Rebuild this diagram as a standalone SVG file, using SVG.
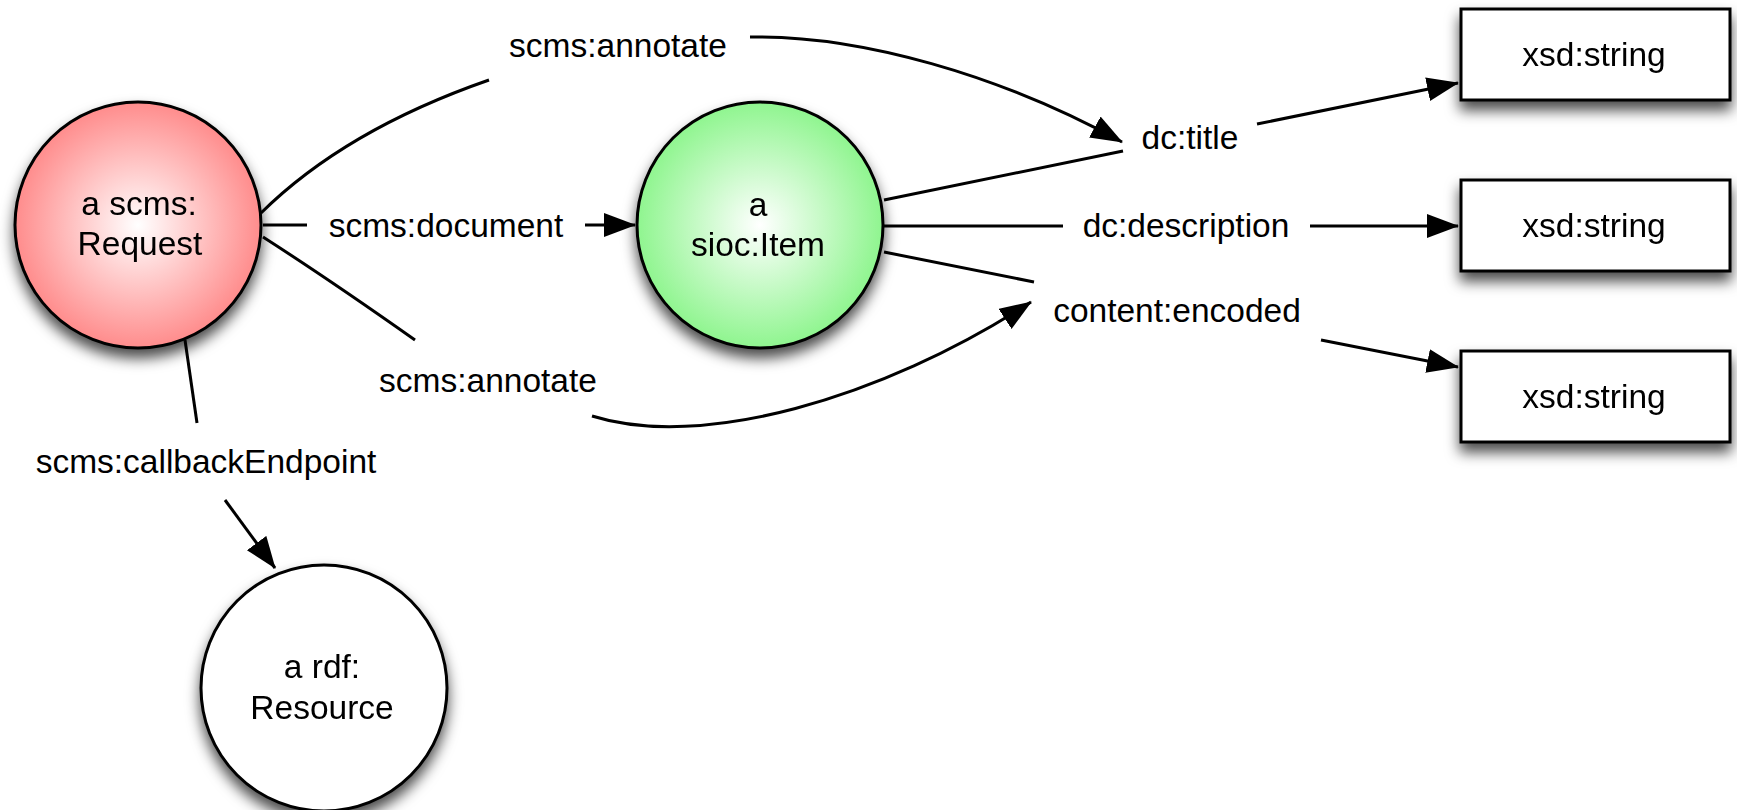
<svg xmlns="http://www.w3.org/2000/svg" width="1737" height="810" viewBox="0 0 1737 810">
  <style>
    .label { font-family: "Liberation Sans", Arial, Helvetica, sans-serif; font-size: 33.5px; fill: #000; text-anchor: middle; }
    .edge { fill: none; stroke: #000; stroke-width: 3; }
    .node { stroke: #000; stroke-width: 3; }
  </style>
  <defs>
    <radialGradient id="gradRed" cx="50%" cy="50%" r="50%">
      <stop offset="0" stop-color="#ffffff"/>
      <stop offset="1" stop-color="#ff8c8c"/>
    </radialGradient>
    <radialGradient id="gradGreen" cx="50%" cy="50%" r="50%">
      <stop offset="0" stop-color="#ffffff"/>
      <stop offset="1" stop-color="#8ff58f"/>
    </radialGradient>
    <filter id="shadow" x="-30%" y="-30%" width="160%" height="170%">
      <feDropShadow dx="0" dy="9" stdDeviation="7" flood-color="#000" flood-opacity="0.7"/>
    </filter>
    <marker id="arrow" markerUnits="userSpaceOnUse" markerWidth="34" markerHeight="26" refX="31" refY="12" orient="auto">
      <path d="M0,0 L32,12 L0,24 Z" fill="#000"/>
    </marker>
  </defs>

  <rect width="1737" height="810" fill="#fff"/>

  <!-- connectors: each edge is split around its label -->
  <g id="connectors">
    <!-- Request -> dc:title (scms:annotate) -->
    <path class="edge" d="M261,213 Q345,130 489,80"/>
    <path class="edge" d="M750,37 C860,35 1000,75 1122,142" marker-end="url(#arrow)"/>
    <!-- Request -> Item (scms:document) -->
    <path class="edge" d="M263,225 L307,225"/>
    <path class="edge" d="M585,225 L635,225" marker-end="url(#arrow)"/>
    <!-- Request -> content:encoded (scms:annotate) -->
    <path class="edge" d="M263,237 Q330,280 415,340"/>
    <path class="edge" d="M592,416 C700,450 880,400 1031,302" marker-end="url(#arrow)"/>
    <!-- Request -> Resource (scms:callbackEndpoint) -->
    <path class="edge" d="M185,340 L197,423"/>
    <path class="edge" d="M225,500 L275,568" marker-end="url(#arrow)"/>
    <!-- Item -> dc:title -->
    <path class="edge" d="M884,200 L1123,151"/>
    <!-- dc:title -> xsd:string -->
    <path class="edge" d="M1257,124 L1458,83" marker-end="url(#arrow)"/>
    <!-- Item -> dc:description -> xsd:string -->
    <path class="edge" d="M884,226 L1063,226"/>
    <path class="edge" d="M1310,226 L1458,226" marker-end="url(#arrow)"/>
    <!-- Item -> content:encoded -> xsd:string -->
    <path class="edge" d="M884,252 L1034,282"/>
    <path class="edge" d="M1321,340 L1458,367" marker-end="url(#arrow)"/>

    <!-- edge labels -->
    <text class="label" x="618" y="57">scms:annotate</text>
    <text class="label" x="446" y="237">scms:document</text>
    <text class="label" x="488" y="392">scms:annotate</text>
    <text class="label" x="206" y="473">scms:callbackEndpoint</text>
    <text class="label" x="1190" y="149">dc:title</text>
    <text class="label" x="1186" y="237">dc:description</text>
    <text class="label" x="1177" y="322">content:encoded</text>
  </g>

  <g id="node-request" filter="url(#shadow)">
    <circle class="node" cx="138" cy="225" r="123" fill="url(#gradRed)"/>
    <text class="label" x="139" y="215">a scms:</text>
    <text class="label" x="140" y="255">Request</text>
  </g>

  <g id="node-item" filter="url(#shadow)">
    <circle class="node" cx="760" cy="225" r="123" fill="url(#gradGreen)"/>
    <text class="label" x="758" y="216">a</text>
    <text class="label" x="758" y="256">sioc:Item</text>
  </g>

  <g id="node-resource" filter="url(#shadow)">
    <circle class="node" cx="324" cy="688" r="123" fill="#fff"/>
    <text class="label" x="322" y="678">a rdf:</text>
    <text class="label" x="322" y="719">Resource</text>
  </g>

  <g id="node-string-1" filter="url(#shadow)">
    <rect class="node" x="1461" y="9" width="269" height="91" fill="#fff"/>
    <text class="label" x="1594" y="66">xsd:string</text>
  </g>

  <g id="node-string-2" filter="url(#shadow)">
    <rect class="node" x="1461" y="180" width="269" height="91" fill="#fff"/>
    <text class="label" x="1594" y="237">xsd:string</text>
  </g>

  <g id="node-string-3" filter="url(#shadow)">
    <rect class="node" x="1461" y="351" width="269" height="91" fill="#fff"/>
    <text class="label" x="1594" y="408">xsd:string</text>
  </g>
</svg>
